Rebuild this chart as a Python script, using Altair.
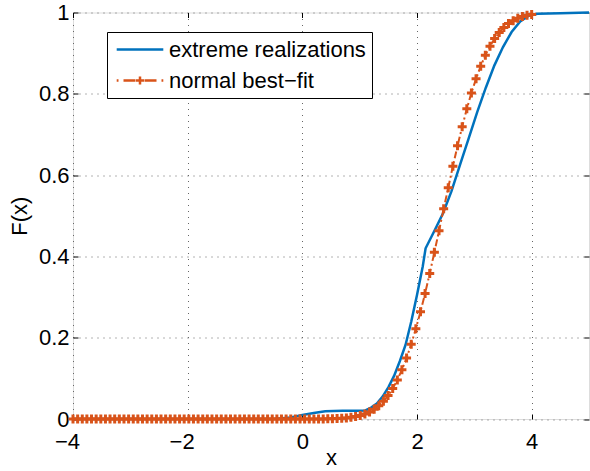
import altair as alt
import pandas as pd

series_names = ["extreme realizations", "normal best\u2212fit"]
series_colors = ["#0072BD", "#D95319"]

# extreme realizations
x_ext = [-4.0, -0.5, -0.2, 0.0, 0.2, 0.4, 0.7, 1.0, 1.1, 1.2, 1.3, 1.4, 1.5, 1.6, 1.7,
         1.8, 1.9, 2.0, 2.1, 2.15, 2.3, 2.45, 2.6, 2.75, 2.9, 3.05, 3.2, 3.35, 3.5,
         3.65, 3.8, 3.95, 4.1, 4.5, 5.0]
F_ext = [0.0, 0.0, 0.004, 0.01, 0.015, 0.019, 0.02, 0.02, 0.021, 0.028, 0.038, 0.055,
         0.078, 0.106, 0.142, 0.182, 0.24, 0.305, 0.375, 0.42, 0.462, 0.505, 0.56,
         0.625, 0.69, 0.755, 0.815, 0.87, 0.915, 0.952, 0.978, 0.992, 0.997, 0.998, 1.0]

# normal best-fit markers
x_norm = [-4.000, -3.919, -3.838, -3.758, -3.677, -3.596, -3.515, -3.434, -3.354, -3.273,
          -3.192, -3.111, -3.030, -2.949, -2.869, -2.788, -2.707, -2.626, -2.545, -2.465,
          -2.384, -2.303, -2.222, -2.141, -2.061, -1.980, -1.899, -1.818, -1.737, -1.657,
          -1.576, -1.495, -1.414, -1.333, -1.253, -1.172, -1.091, -1.010, -0.929, -0.848,
          -0.768, -0.687, -0.606, -0.525, -0.444, -0.364, -0.283, -0.202, -0.121, -0.040,
          0.040, 0.121, 0.202, 0.283, 0.364, 0.444, 0.525, 0.606, 0.687, 0.768,
          0.848, 0.929, 1.010, 1.091, 1.172, 1.253, 1.333, 1.414, 1.495, 1.576,
          1.657, 1.737, 1.818, 1.899, 1.980, 2.061, 2.141, 2.222, 2.303, 2.384,
          2.465, 2.545, 2.626, 2.707, 2.788, 2.869, 2.949, 3.030, 3.111, 3.192,
          3.273, 3.354, 3.434, 3.515, 3.596, 3.677, 3.758, 3.838, 3.919, 4.000]
F_norm = [0.0, 0.0, 0.0, 0.0, 0.0, 0.0, 0.0, 0.0, 0.0, 0.0,
          0.0, 0.0, 0.0, 0.0, 0.0, 0.0, 0.0, 0.0, 0.0, 0.0,
          0.0, 0.0, 0.0, 0.0, 0.0, 0.0, 0.0, 0.0, 0.0, 0.0,
          0.0, 0.0, 0.0, 0.0, 0.0, 0.0, 0.0, 0.0, 0.0, 0.0,
          0.0, 0.0, 0.0, 0.0, 0.0, 0.0, 0.0, 0.0, 0.0, 0.0,
          0.0, 0.0, 0.0, 0.0, 0.0, 0.0004, 0.0007, 0.0011, 0.0018, 0.0026,
          0.004, 0.0059, 0.0087, 0.0122, 0.0174, 0.0239, 0.0325, 0.0436, 0.0576, 0.0749,
          0.096, 0.121, 0.150, 0.184, 0.222, 0.264, 0.309, 0.358, 0.410, 0.463,
          0.517, 0.569, 0.622, 0.672, 0.719, 0.763, 0.802, 0.837, 0.868, 0.895,
          0.917, 0.936, 0.951, 0.963, 0.973, 0.980, 0.986, 0.990, 0.993, 0.995]

x_ticks = [-4, -2, 0, 2, 4]
y_ticks = [0, 0.2, 0.4, 0.6, 0.8, 1.0]

# legend symbol shapes (unit = 10 px at symbolSize 400) and data marker shape
legend_shapes = ["M-0.78,0H3.88",
                 "M-0.78,0H-0.6M-0.1,0H1.1M1.15,0H1.95M1.55,-0.4V0.4M2.0,0H3.2M3.7,0H3.88"]
plus_shape = "M-1,0H1M0,-1V1"

df = pd.concat([
    pd.DataFrame({"x": x_ext, "F": F_ext, "series": series_names[0]}),
    pd.DataFrame({"x": x_norm, "F": F_norm, "series": series_names[1]}),
], ignore_index=True)

FONT = "Liberation Sans"
FS = 22

xscale = alt.Scale(domain=[-4, 5], nice=False, zero=False)
yscale = alt.Scale(domain=[0, 1], nice=False, zero=False)
legend = alt.Legend(title=None, orient="none", legendX=34, legendY=19.5,
                    strokeColor="black", fillColor="white", padding=6, cornerRadius=0,
                    labelFont=FONT, labelFontSize=FS, labelColor="black", labelLimit=400,
                    labelOffset=33, rowPadding=8, symbolSize=400, symbolStrokeWidth=2.5,
                    symbolOpacity=1)
color = alt.Color("series:N", scale=alt.Scale(domain=series_names, range=series_colors),
                  legend=legend)

common_axis = dict(domain=False, ticks=True, tickSize=5, offset=-5, tickColor="black",
                   tickWidth=1, labelFont=FONT, labelFontSize=FS, labelColor="black",
                   labelFlush=False, labelOverlap=False, titleFont=FONT, titleFontSize=FS,
                   titleFontWeight="normal", titleColor="black", gridColor="#666666",
                   gridDash=[1, 5], gridWidth=1)

x_axis_main = alt.Axis(orient="bottom", values=x_ticks, format="~f", grid=True,
                       labelPadding=12, title="x", titleBaseline="alphabetic",
                       titleY=50, titleX=258,
                       labelOffset={"condition": {"test": "datum.value < 0", "value": -6}, "value": 0},
                       **common_axis)
y_axis_main = alt.Axis(orient="left", values=y_ticks, format=".1~f", grid=True,
                       labelPadding=4, title="F(x)", titleBaseline="alphabetic",
                       titleX=-52, titleY=203.25, titleAngle=270, titleAlign="center",
                       **common_axis)
x_axis_top = alt.Axis(orient="top", values=x_ticks, labels=False, title=None, grid=False,
                      **common_axis)
y_axis_right = alt.Axis(orient="right", values=y_ticks, labels=False, title=None, grid=False,
                        **common_axis)

base = alt.Chart(df)

blue_line = base.transform_filter(
    alt.datum.series == series_names[0]
).mark_line(strokeWidth=2.5).encode(
    x=alt.X("x:Q", scale=xscale, axis=x_axis_main),
    y=alt.Y("F:Q", scale=yscale, axis=y_axis_main),
    color=color,
)

orange_line = base.transform_filter(
    alt.datum.series == series_names[1]
).mark_line(strokeWidth=2, strokeDash=[7, 3, 2, 3]).encode(
    x=alt.X("x:Q", scale=xscale, axis=None),
    y=alt.Y("F:Q", scale=yscale, axis=None),
    color=color,
)

orange_pts = base.transform_filter(
    alt.datum.series == series_names[1]
).mark_point(shape=plus_shape, filled=False, size=81, strokeWidth=3, opacity=1).encode(
    x=alt.X("x:Q", scale=xscale, axis=x_axis_top),
    y=alt.Y("F:Q", scale=yscale, axis=y_axis_right),
    color=color,
)

# legend-only layer (no rows drawn): provides the legend symbol shapes
legend_layer = base.transform_filter("false").mark_point(filled=False, strokeWidth=2.5).encode(
    x=alt.X("x:Q", scale=xscale, axis=None),
    y=alt.Y("F:Q", scale=yscale, axis=None),
    color=color,
    shape=alt.Shape("series:N", scale=alt.Scale(domain=series_names, range=legend_shapes),
                    legend=legend),
)

chart = alt.layer(blue_line, orange_line, orange_pts, legend_layer).resolve_axis(
    x="independent", y="independent"
).properties(
    width=516, height=406.5,
    autosize=alt.AutoSizeParams(type="none"),
    padding={"left": 73, "top": 12.5, "right": 1, "bottom": 52},
).configure_view(
    stroke="black", strokeWidth=1
).configure(background="white")

chart.save("out.html", embed_options={"renderer": "svg", "actions": False})
